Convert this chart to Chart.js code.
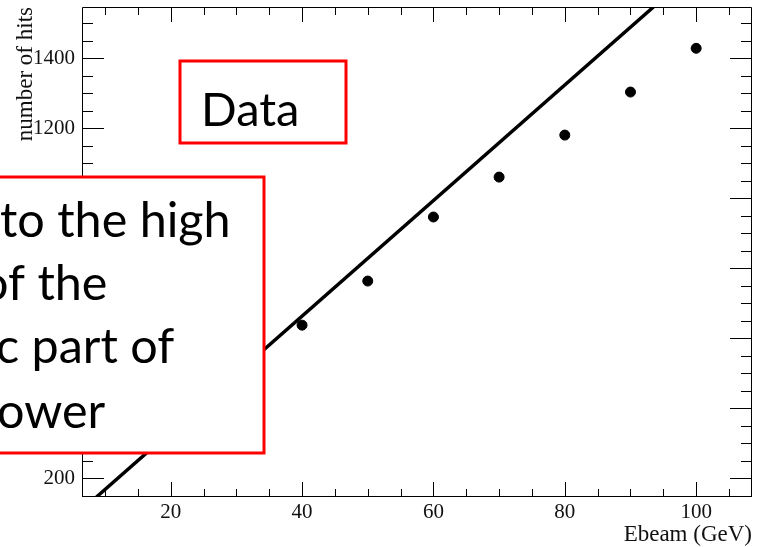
<!DOCTYPE html>
<html>
<head>
<meta charset="utf-8">
<script src="https://cdn.jsdelivr.net/npm/chart.js@4.4.1/dist/chart.umd.min.js"></script>
<style>
  html, body { margin: 0; padding: 0; background: #fff; }
  #wrap { width: 759px; height: 547px; }
</style>
</head>
<body>
<div id="wrap"><canvas id="hitsChart" width="759" height="547"></canvas></div>
<script>
// beam energies (GeV) and measured number of hits
const energies = [40, 50, 60, 70, 80, 90, 100];
const hits = [638, 764, 947, 1061, 1181, 1304, 1429];

// straight line extrapolated from the low energy points (two end points)
const lineE = [8.7, 93.5];
const lineHits = [147, 1547];

// axis ranges and tick labels
const xRange = [6.5, 108.5];
const yRange = [147, 1547];
const xTickValues = [20, 40, 60, 80, 100];
const yTickValues = [200, 400, 600, 800, 1000, 1200, 1400];
const xTitle = 'Ebeam (GeV)';
const yTitle = 'number of hits';

// overlaid text boxes
const dataLabel = 'Data';
const noteLines = ['to the high', 'of the', 'c part of', 'ower'];

// ROOT style frame with ticks pointing inwards
const frameTicks = {
    id: 'frameTicks',
    afterDatasetsDraw(chart) {
        const ctx = chart.ctx;
        const a = chart.chartArea;
        const xs = chart.scales.x;
        const ys = chart.scales.y;
        ctx.save();
        ctx.strokeStyle = '#000';
        ctx.lineWidth = 1;
        ctx.beginPath();
        ctx.rect(a.left + 0.5, a.top + 0.5, a.right - a.left - 1, a.bottom - a.top - 1);

        for (let v = 5; v <= 105; v += 5) {
            const px = Math.round(xs.getPixelForValue(v)) + 0.5;
            if (px < a.left || px > a.right) continue;
            const len = v % 20 === 0 ? 15 : 8;
            ctx.moveTo(px, a.bottom); ctx.lineTo(px, a.bottom - len);
            ctx.moveTo(px, a.top); ctx.lineTo(px, a.top + len);
        }
        for (let v = 150; v <= 1500; v += 50) {
            const py = Math.round(ys.getPixelForValue(v)) + 0.5;
            if (py < a.top || py > a.bottom) continue;
            const len = v % 200 === 0 ? 22 : 11;
            ctx.moveTo(a.left, py); ctx.lineTo(a.left + len, py);
            ctx.moveTo(a.right, py); ctx.lineTo(a.right - len, py);
        }
        ctx.stroke();

        // axis titles, ROOT puts them at the far end of each axis
        ctx.fillStyle = '#111';
        ctx.font = '23px "Liberation Serif"';
        ctx.textBaseline = 'alphabetic';
        ctx.textAlign = 'right';
        ctx.fillText(xTitle, a.right, 541);
        ctx.translate(32, a.top);
        ctx.rotate(-Math.PI / 2);
        ctx.fillText(yTitle, 0, 0);
        ctx.restore();
    },
    afterDraw(chart) {
        const ctx = chart.ctx;
        ctx.save();
        ctx.lineWidth = 3;
        ctx.strokeStyle = '#ff0000';
        ctx.fillStyle = '#fff';

        // "Data" box
        ctx.fillRect(180, 61, 166, 82);
        ctx.strokeRect(180, 61, 166, 82);
        // note box, cut by the left edge
        ctx.fillRect(-10, 177, 274, 276);
        ctx.strokeRect(-10, 177, 274, 276);

        ctx.fillStyle = '#000';
        ctx.textBaseline = 'alphabetic';
        ctx.textAlign = 'left';
        ctx.font = '47px Lato';
        ctx.fillText(dataLabel, 201, 126);

        ctx.font = '48.5px Lato';
        const starts = [0, -19, -4, -3];
        const bases = [237, 300, 363, 428];
        noteLines.forEach((t, i) => ctx.fillText(t, starts[i], bases[i]));
        ctx.restore();
    }
};

const ctx = document.getElementById('hitsChart').getContext('2d');
const hitsChart = new Chart(ctx, {
    type: 'scatter',
    data: {
        datasets: [
            {
                type: 'line',
                data: lineE.map((e, i) => ({ x: e, y: lineHits[i] })),
                borderColor: '#000',
                borderWidth: 3.5,
                pointRadius: 0,
                fill: false,
                tension: 0
            },
            {
                data: energies.map((e, i) => ({ x: e, y: hits[i] })),
                backgroundColor: '#000',
                borderColor: '#000',
                pointRadius: 5,
                pointHoverRadius: 5
            }
        ]
    },
    options: {
        responsive: false,
        animation: false,
        layout: {
            padding: { top: 7, right: 7, left: 0, bottom: 0 }
        },
        plugins: {
            legend: { display: false },
            tooltip: { enabled: false }
        },
        scales: {
            x: {
                type: 'linear',
                min: xRange[0],
                max: xRange[1],
                afterBuildTicks(scale) { scale.ticks = xTickValues.map(v => ({ value: v })); },
                afterFit(scale) {
                    scale.height = 50;
                    scale.paddingLeft = 0;
                    scale.paddingRight = 0;
                },
                grid: { display: false, drawTicks: false },
                border: { display: false },
                ticks: {
                    padding: 3,
                    color: '#111',
                    maxRotation: 0,
                    callback: v => String(v),
                    font: { family: 'Liberation Serif', size: 21 }
                }
            },
            y: {
                type: 'linear',
                min: yRange[0],
                max: yRange[1],
                afterBuildTicks(scale) { scale.ticks = yTickValues.map(v => ({ value: v })); },
                afterFit(scale) {
                    scale.width = 82;
                    scale.paddingTop = 0;
                    scale.paddingBottom = 0;
                },
                grid: { display: false, drawTicks: false },
                border: { display: false },
                ticks: {
                    padding: 7,
                    color: '#111',
                    callback: v => String(v),
                    font: { family: 'Liberation Serif', size: 21 }
                }
            }
        }
    },
    plugins: [frameTicks]
});
</script>
</body>
</html>
